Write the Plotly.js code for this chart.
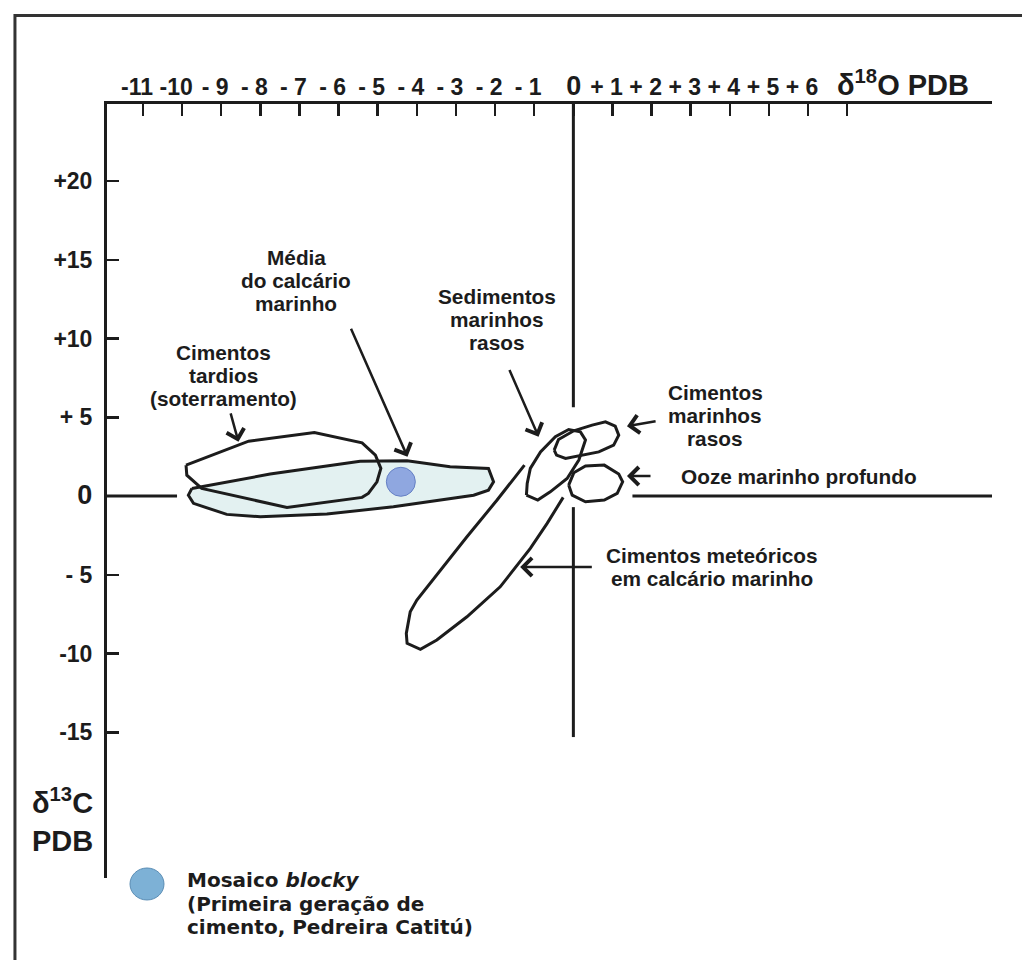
<!DOCTYPE html>
<html><head><meta charset="utf-8">
<script src="https://cdn.plot.ly/plotly-3.0.1.min.js"></script>
<style>html,body{margin:0;padding:0;background:#fff}#chart{width:1022px;height:960px}</style>
</head><body><div id="chart"></div>
<script>
// ---- axis ticks ----
const xTickVals = [-11,-10,-9,-8,-7,-6,-5,-4,-3,-2,-1,0,1,2,3,4,5,6,7];
const xTickText = ['-11','-10','- 9','- 8','- 7','- 6','- 5','- 4','- 3','- 2','- 1','0','+ 1','+ 2','+ 3','+ 4','+ 5','+ 6',''];
const yTickVals = [20,15,10,5,0,-5,-10,-15];
const yTickText = ['+20','+15','+10','+ 5','0','- 5','-10','-15'];

// ---- fields (δ18O, δ13C) ----
const tardiosX = [-9.90,-8.30,-6.62,-5.40,-5.06,-4.92,-5.02,-5.24,-5.40,-7.32,-9.50,-9.88,-9.90];
const tardiosY = [1.97,3.49,4.04,3.38,2.60,1.76,0.91,0.17,-0.08,-0.72,0.49,1.33,1.97];

const mediaX = [-9.75,-7.75,-5.45,-4.25,-3.15,-2.17,-2.04,-2.17,-2.55,-4.60,-6.30,-8.00,-8.86,-9.71,-9.84,-9.75];
const mediaY = [0.49,1.40,2.22,2.24,1.86,1.76,0.91,0.38,0.06,-0.68,-1.14,-1.31,-1.16,-0.46,0.06,0.49];

const sedimentosX = [-1.20,-0.91,-0.59,-0.16,0.14,0.31,0.18,-0.12,-0.46,-0.84,-1.10,-1.18,-1.20];
const sedimentosY = [0.06,-0.25,0.27,1.12,2.29,3.56,4.08,4.23,3.77,2.81,1.76,0.81,0.06];

const cimMarinhosX = [-0.49,-0.38,0.01,0.48,0.82,1.07,1.16,1.03,0.65,0.22,-0.20,-0.43,-0.49];
const cimMarinhosY = [2.92,3.60,4.15,4.51,4.72,4.44,3.87,3.24,2.81,2.60,2.39,2.60,2.92];

const oozeX = [-0.12,0.01,0.31,0.79,1.16,1.26,1.12,0.79,0.31,-0.03,-0.12];
const oozeY = [0.70,1.48,1.92,1.97,1.40,0.91,0.17,-0.25,-0.36,0.06,0.70];

const meteoricosX = [-1.25,-1.95,-2.72,-3.40,-4.00,-4.17,-4.27,-4.25,-3.91,-3.49,-2.72,-1.87,-1.10,-0.67,-0.26];
const meteoricosY = [1.97,-0.25,-2.58,-4.70,-6.60,-7.35,-8.72,-9.35,-9.73,-9.14,-7.66,-5.76,-3.32,-1.73,-0.08];

// ---- sample: Mosaico blocky ----
const blockyX = [-4.41];
const blockyY = [0.91];

// ---- reference (zero) lines ----
const zeroHSegments = [[-11.92,-10.13],[1.51,10.7]];
const zeroVSegments = [[24.9,5.65],[-0.7,-15.3]];

const FONT = 'Liberation Sans, Arial, Helvetica, sans-serif';
const INK = '#1c1c1c';
const outline = {color: INK, width: 3};

function poly(x, y, fill, fillcolor) {
  const t = {x: x, y: y, type: 'scatter', mode: 'lines', line: outline, hoverinfo: 'skip', showlegend: false};
  if (fill) { t.fill = 'toself'; t.fillcolor = fillcolor; }
  return t;
}

const traces = [
  poly(mediaX, mediaY, true, '#e3f1f1'),
  poly(tardiosX, tardiosY, false),
  poly(sedimentosX, sedimentosY, false),
  poly(cimMarinhosX, cimMarinhosY, false),
  poly(oozeX, oozeY, false),
  poly(meteoricosX, meteoricosY, false),
  {x: blockyX, y: blockyY, type: 'scatter', mode: 'markers',
   marker: {size: 29, color: '#8fa7e0', line: {color: '#6580c4', width: 1}},
   hoverinfo: 'skip', showlegend: false}
];

const shapes = [];
zeroHSegments.forEach(s => shapes.push({type: 'line', xref: 'x', yref: 'y', x0: s[0], x1: s[1], y0: 0, y1: 0, line: {color: INK, width: 3}, layer: 'below'}));
zeroVSegments.forEach(s => shapes.push({type: 'line', xref: 'x', yref: 'y', x0: 0, x1: 0, y0: s[0], y1: s[1], line: {color: INK, width: 3}, layer: 'below'}));
// outer frame
shapes.push({type: 'rect', xref: 'paper', yref: 'paper', x0: -0.104, x1: 1.06, y0: -0.14, y1: 1.1143, line: {color: '#333', width: 3}, fillcolor: 'rgba(0,0,0,0)'});
// legend swatch
shapes.push({type: 'circle', xref: 'paper', yref: 'paper', x0: 0.0260, x1: 0.0644, y0: -0.0284, y1: 0.0129, fillcolor: '#7db1d6', line: {color: '#5a8db5', width: 1}});

const lblFont = {family: FONT, size: 20.8, color: INK, weight: 'bold'};
const LINE_GAP = 23;
// multi-line label: one annotation per line to control line spacing
function label(lines, x, y, xanchor) {
  const n = lines.length;
  return lines.map((t, i) => ({
    text: t, x: x, y: y, xref: 'x', yref: 'y', showarrow: false, font: lblFont,
    xanchor: xanchor || 'center', yanchor: 'middle',
    yshift: ((n - 1) / 2 - i) * LINE_GAP
  }));
}
function arrow(tipX, tipY, tailX, tailY) {
  return {text: '', x: tipX, y: tipY, ax: tailX, ay: tailY, xref: 'x', yref: 'y', axref: 'x', ayref: 'y',
          showarrow: true, arrowhead: 4, arrowsize: 1.4, arrowwidth: 2.5, arrowcolor: INK, standoff: 0, startstandoff: 0};
}

const legFont = {family: 'DejaVu Sans, sans-serif', size: 20, color: INK, weight: 'bold'};
const titleFont = {family: FONT, size: 29, color: INK, weight: 'bold'};

const annotations = [].concat(
  label(['Média', 'do calcário', 'marinho'], -7.08, 13.71),
  label(['Cimentos', 'tardios', '(soterramento)'], -8.93, 7.68),
  label(['Sedimentos', 'marinhos', 'rasos'], -1.94, 11.21),
  label(['Cimentos', 'marinhos', 'rasos'], 3.63, 5.14),
  label(['Ooze marinho profundo'], 2.71, 1.27, 'left'),
  label(['Cimentos meteóricos', 'em calcário marinho'], 3.55, -4.51),
  [
    arrow(-8.56, 3.45, -8.77, 5.35),
    arrow(-4.24, 2.50, -5.70, 10.73),
    arrow(-0.89, 3.77, -1.65, 8.11),
    arrow(1.37, 4.44, 2.14, 4.77),
    arrow(1.37, 1.27, 2.01, 1.27),
    arrow(-1.36, -4.50, 0.51, -4.50),
    // axis titles
    {text: 'δ<sup>18</sup>O PDB', xref: 'paper', yref: 'paper', x: 0.8226, y: 1.0271, xanchor: 'left', yanchor: 'middle',
     showarrow: false, font: titleFont},
    {text: 'δ<sup>13</sup>C', xref: 'paper', yref: 'paper', x: -0.087, y: 0.100, xanchor: 'left', yanchor: 'middle',
     showarrow: false, font: titleFont},
    {text: 'PDB', xref: 'paper', yref: 'paper', x: -0.087, y: 0.0478, xanchor: 'left', yanchor: 'middle',
     showarrow: false, font: titleFont},
    // legend text
    {text: 'Mosaico <i>blocky</i>', xref: 'paper', yref: 'paper', x: 0.0881, y: -0.0026, xanchor: 'left', yanchor: 'middle',
     showarrow: false, font: legFont},
    {text: '(Primeira geração de', xref: 'paper', yref: 'paper', x: 0.0881, y: -0.0336, xanchor: 'left', yanchor: 'middle',
     showarrow: false, font: legFont},
    {text: 'cimento, Pedreira Catitú)', xref: 'paper', yref: 'paper', x: 0.0881, y: -0.0633, xanchor: 'left', yanchor: 'middle',
     showarrow: false, font: legFont}
  ]
);

// keep the gap between sign and digit (plain spaces collapse in SVG text)
const nb = s => s.replace(/ /g, '\u00a0');
const xText = xTickText.map(t => t === '0' ? '\u00a0\u00a0<span style="font-size:27px">0</span>' : nb(t));
const yText = yTickText.map(t => t === '0' ? '<span style="font-size:27px">0</span>' : nb(t));

const layout = {
  width: 1022, height: 960,
  margin: {l: 107, r: 30, t: 104, b: 82, pad: 0},
  paper_bgcolor: '#fff', plot_bgcolor: '#fff',
  font: {family: FONT, color: INK, weight: 'bold'},
  showlegend: false,
  xaxis: {
    range: [-11.92, 10.7], side: 'top', showgrid: false, zeroline: false,
    showline: true, linewidth: 3, linecolor: INK,
    ticks: 'inside', ticklen: 12, tickwidth: 2.5, tickcolor: INK,
    tickmode: 'array', tickvals: xTickVals, ticktext: xText,
    tickfont: {family: FONT, size: 23, color: INK, weight: 'bold'},
    ticklabelshift: -6, ticklabelstandoff: -3, automargin: false, fixedrange: true
  },
  yaxis: {
    range: [-24.25, 24.9], showgrid: false, zeroline: false,
    showline: true, linewidth: 3, linecolor: INK,
    ticks: 'inside', ticklen: 12, tickwidth: 2.5, tickcolor: INK,
    tickmode: 'array', tickvals: yTickVals, ticktext: yText,
    tickfont: {family: FONT, size: 23, color: INK, weight: 'bold'},
    ticklabelstandoff: 7, automargin: false, fixedrange: true
  },
  shapes: shapes,
  annotations: annotations
};

Plotly.newPlot('chart', traces, layout, {staticPlot: true, displayModeBar: false});
</script>
</body></html>
